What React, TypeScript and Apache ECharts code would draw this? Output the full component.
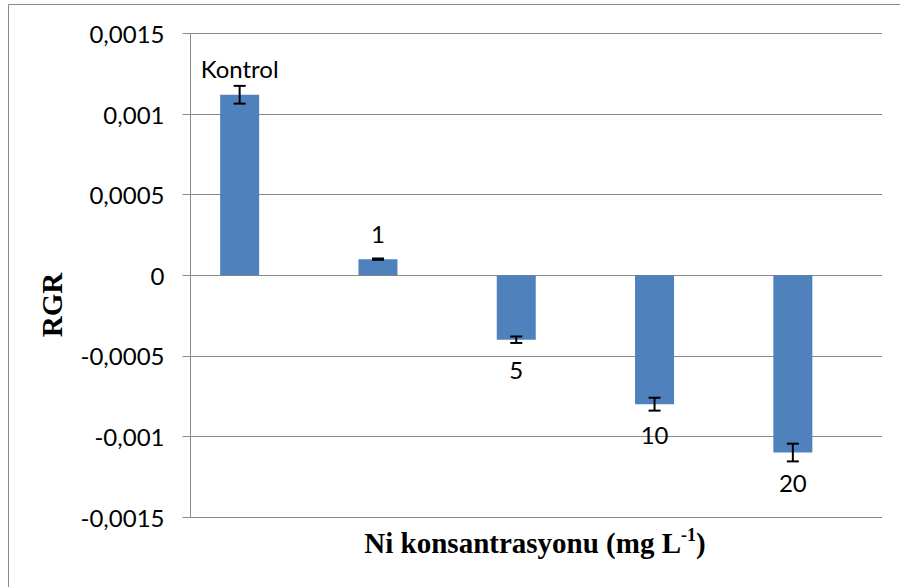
import React, { useEffect, useRef } from "react";
import * as echarts from "echarts";

const categories = ["Kontrol", "1", "5", "10", "20"];
const rgrValues = [0.00112, 0.0001, -0.0004, -0.0008, -0.0011];
const rgrErrors = [0.000055, 0.000004, 0.00002, 0.00004, 0.000055];
const yTickValues = [-0.0015, -0.001, -0.0005, 0, 0.0005, 0.001, 0.0015];
const yTickLabels = ["-0,0015", "-0,001", "-0,0005", "0", "0,0005", "0,001", "0,0015"];

const Y_MIN = -0.0015;
const Y_MAX = 0.0015;
const Y_STEP = 0.0005;
const GRID_COLOR = "#898989";
const BAR_COLOR = "#4F81BD";
const LABEL_FONT = "Lato";

export default function App() {
  const ref = useRef<HTMLDivElement>(null);

  useEffect(() => {
    if (!ref.current) return;
    const chart = echarts.init(ref.current, undefined, { renderer: "svg" });

    const yLabel = (v: number) => {
      let best = 0;
      for (let i = 0; i < yTickValues.length; i++) {
        if (Math.abs(yTickValues[i] - v) < Math.abs(yTickValues[best] - v)) best = i;
      }
      return yTickLabels[best];
    };

    const barData = rgrValues.map((v, i) => ({
      value: v,
      label: {
        show: true,
        position: v >= 0 ? "top" : "bottom",
        distance: v >= 0 ? 14 : 18,
        formatter: categories[i],
        color: "#000",
        fontFamily: LABEL_FONT,
        fontSize: 24,
      },
    }));

    const errData = rgrValues.map((v, i) => [i, v - rgrErrors[i], v + rgrErrors[i]]);

    chart.setOption({
      animation: false,
      backgroundColor: "#fff",
      grid: [
        { left: 190.5, right: 18, top: 33.5, bottom: 70, containLabel: false },
        { left: 170.5, right: 38, top: 33.5, bottom: 70, containLabel: false },
      ],
      xAxis: [
        {
          type: "category",
          gridIndex: 0,
          data: categories,
          axisLine: { show: false },
          axisTick: { show: false },
          axisLabel: { show: false },
          splitLine: { show: false },
        },
        {
          type: "category",
          gridIndex: 1,
          data: categories,
          axisLine: { show: false },
          axisTick: { show: false },
          axisLabel: { show: false },
          splitLine: { show: false },
        },
      ],
      yAxis: [
        {
          type: "value",
          gridIndex: 0,
          min: Y_MIN,
          max: Y_MAX,
          interval: Y_STEP,
          axisLine: { show: true, lineStyle: { color: GRID_COLOR, width: 1 } },
          axisTick: { show: true, inside: false, length: 8, lineStyle: { color: GRID_COLOR, width: 1 } },
          axisLabel: {
            margin: 26,
            color: "#000",
            fontFamily: LABEL_FONT,
            fontSize: 24,
            formatter: (v: number) => yLabel(v),
          },
          splitLine: { show: true, lineStyle: { color: GRID_COLOR, width: 1 } },
        },
        {
          type: "value",
          gridIndex: 1,
          min: Y_MIN,
          max: Y_MAX,
          interval: Y_STEP,
          axisLine: { show: false },
          axisTick: { show: false },
          axisLabel: { show: false },
          splitLine: { show: false },
        },
      ],
      series: [
        {
          type: "bar",
          xAxisIndex: 1,
          yAxisIndex: 1,
          data: barData,
          barWidth: 39,
          itemStyle: { color: BAR_COLOR },
          z: 2,
        },
        {
          type: "custom",
          xAxisIndex: 1,
          yAxisIndex: 1,
          data: errData,
          z: 3,
          renderItem: (params: any, api: any) => {
            const x = api.value(0);
            const lo = api.coord([x, api.value(1)]);
            const hi = api.coord([x, api.value(2)]);
            const cx = lo[0];
            const hw = 6;
            const style = { stroke: "#000", lineWidth: 2, fill: "none" };
            return {
              type: "group",
              children: [
                { type: "line", shape: { x1: cx, y1: hi[1], x2: cx, y2: lo[1] }, style },
                { type: "line", shape: { x1: cx - hw, y1: hi[1], x2: cx + hw, y2: hi[1] }, style },
                { type: "line", shape: { x1: cx - hw, y1: lo[1], x2: cx + hw, y2: lo[1] }, style },
              ],
            };
          },
        },
      ],
      graphic: [
        {
          type: "rect",
          shape: { x: 8.5, y: 4.5, width: 900, height: 600 },
          style: { stroke: GRID_COLOR, lineWidth: 1, fill: "none" },
          silent: true,
          z: -10,
        },
        {
          type: "text",
          x: 52,
          y: 305,
          rotation: Math.PI / 2,
          style: {
            text: "RGR",
            fontFamily: "Liberation Serif",
            fontWeight: "bold",
            fontSize: 29,
            fill: "#000",
            align: "center",
            verticalAlign: "middle",
          },
        },
        {
          type: "text",
          x: 535,
          y: 543,
          style: {
            text: "{b|Ni konsantrasyonu (mg L}{s|-1}{b|)}",
            align: "center",
            verticalAlign: "middle",
            rich: {
              b: {
                fontFamily: "Liberation Serif",
                fontWeight: "bold",
                fontSize: 29,
                lineHeight: 34,
                fill: "#000",
              },
              s: {
                fontFamily: "Liberation Serif",
                fontWeight: "bold",
                fontSize: 18,
                lineHeight: 34,
                verticalAlign: "top",
                padding: [0, 0, 16, 0],
                fill: "#000",
              },
            },
          },
        },
      ],
    });

    return () => chart.dispose();
  }, []);

  return (
    <div
      ref={ref}
      style={{ position: "absolute", left: 0, top: 0, width: 900, height: 587 }}
    />
  );
}
